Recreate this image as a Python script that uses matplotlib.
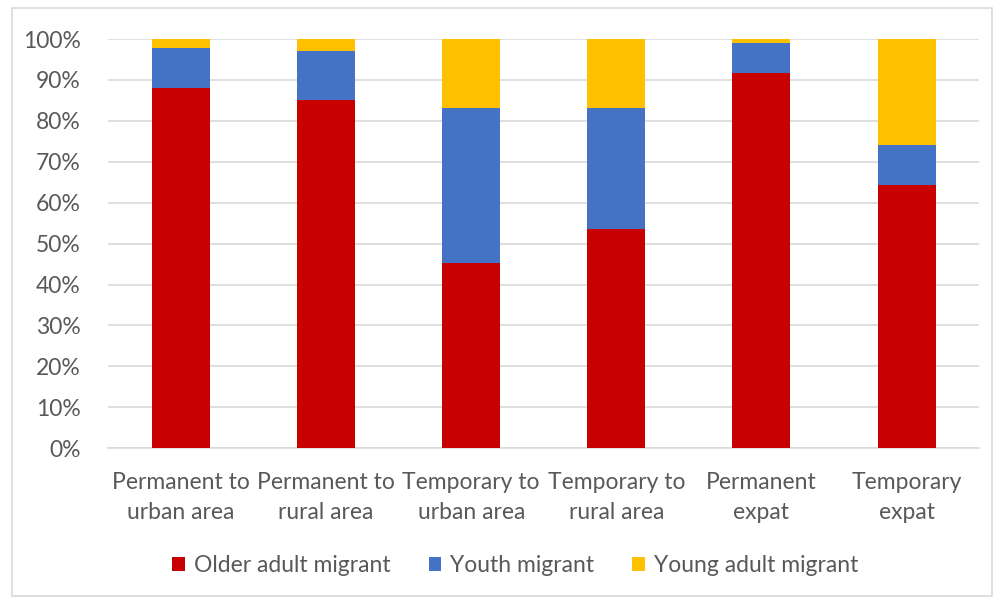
import matplotlib
matplotlib.use("Agg")
import matplotlib.pyplot as plt
from matplotlib.patches import Rectangle
import numpy as np

categories = ["Permanent to\nurban area", "Permanent to\nrural area", "Temporary to\nurban area",
              "Temporary to\nrural area", "Permanent\nexpat", "Temporary\nexpat"]
older_adult = [88.1, 85.2, 45.2, 53.5, 91.6, 64.3]
youth = [9.7, 11.9, 37.9, 29.6, 7.5, 9.8]
young_adult = [2.2, 2.9, 16.9, 16.9, 0.9, 25.9]

series = [("Older adult migrant", older_adult, "#C80000"),
          ("Youth migrant", youth, "#4472C4"),
          ("Young adult migrant", young_adult, "#FFC000")]

plt.rcParams["font.family"] = ["Lato", "DejaVu Sans"]
text_color = "#595959"
fs = 16.5

fig = plt.figure(figsize=(9.95, 6), dpi=100)
fig.patches.append(Rectangle((0.012, 0.006), 0.985, 0.98, transform=fig.transFigure,
                             fill=False, edgecolor="#D9D9D9", linewidth=1.2))
ax = fig.add_axes([0.109, 0.253, 0.875, 0.682])

x = np.arange(len(categories))
bottom = np.zeros(len(categories))
for name, vals, color in series:
    ax.bar(x, vals, width=0.4, bottom=bottom, color=color, label=name, zorder=3)
    bottom += np.array(vals)

ax.set_xlim(-0.5, len(categories) - 0.5)
ax.set_ylim(0, 100)
ax.set_yticks(np.arange(0, 101, 10))
ax.set_yticklabels([f"{v}%" for v in range(0, 101, 10)])
ax.set_xticks(x)
ax.set_xticklabels(categories, linespacing=1.55)
ax.grid(axis="y", color="#D9D9D9", linewidth=1.2, zorder=0)
for s in ["top", "right", "left"]:
    ax.spines[s].set_visible(False)
ax.spines["bottom"].set_color("#D9D9D9")
ax.spines["bottom"].set_linewidth(1.2)
ax.tick_params(axis="both", length=0, labelsize=fs, colors=text_color)
ax.tick_params(axis="x", pad=17)
ax.tick_params(axis="y", pad=20)

leg = fig.legend(loc="center", bbox_to_anchor=(0.518, 0.057), ncol=3, frameon=False,
                 fontsize=fs, handlelength=0.55, handleheight=0.55, handletextpad=0.4,
                 columnspacing=1.65)
for t in leg.get_texts():
    t.set_color(text_color)

fig.savefig("out.png", dpi=100)
